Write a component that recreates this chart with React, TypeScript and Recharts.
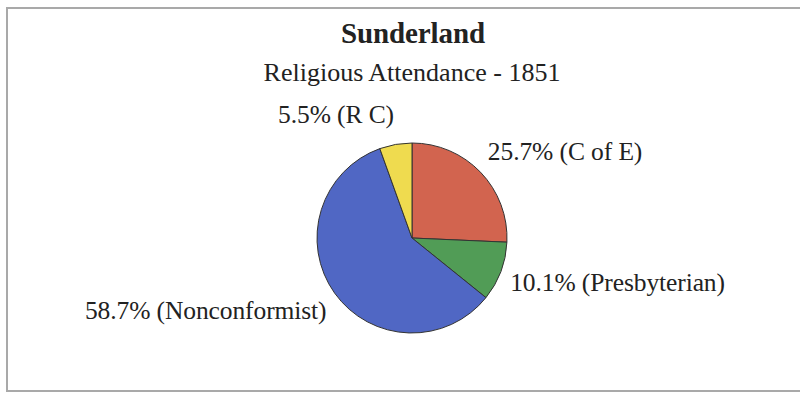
import { PieChart, Pie, Cell } from "recharts";

// Share of attendance by denomination, clockwise from 12 o'clock
const denominations = ["C of E", "Presbyterian", "Nonconformist", "R C"];
const shares = [25.7, 10.1, 58.7, 5.5];
const colors = ["#d2644f", "#519c56", "#5067c4", "#efdb4f"];

const data = denominations.map((name, i) => ({ name, value: shares[i] }));

const RAD = Math.PI / 180;
const FONT = '"Liberation Serif", "Times New Roman", serif';

// Labels sit outside the rim, pushed a bit further vertically than horizontally
function renderLabel(props: any) {
  const { cx, cy, outerRadius, midAngle, name, value } = props;
  const ux = Math.cos(-midAngle * RAD);
  const uy = Math.sin(-midAngle * RAD);
  const x = cx + (outerRadius + 10) * ux;
  const y = cy + (outerRadius + 30) * uy;
  return (
    <text
      x={x}
      y={y}
      textAnchor={x > cx ? "start" : "end"}
      dominantBaseline="central"
      fill="#222"
      style={{ fontFamily: FONT, fontSize: 25.5, letterSpacing: -0.1 }}
    >
      {`${value}% (${name})`}
    </text>
  );
}

export default function App() {
  return (
    <div
      style={{
        position: "fixed",
        left: 0,
        top: 0,
        width: 800,
        height: 393,
        overflow: "hidden",
        background: "#fff",
        fontFamily: FONT,
      }}
    >
      <div
        style={{
          position: "absolute",
          left: 6,
          top: 7,
          width: 800,
          height: 381,
          border: "2px solid #a9a9a9",
        }}
      />
      <div
        style={{
          position: "absolute",
          left: 0,
          top: 19,
          width: 826,
          textAlign: "center",
          fontSize: 29,
          lineHeight: 1,
          fontWeight: 700,
          color: "#222",
          letterSpacing: -0.1,
        }}
      >
        Sunderland
      </div>
      <div
        style={{
          position: "absolute",
          left: 0,
          top: 60,
          width: 824,
          textAlign: "center",
          fontSize: 26,
          lineHeight: 1,
          color: "#222",
        }}
      >
        Religious Attendance - 1851
      </div>
      <div style={{ position: "absolute", left: 0, top: 0 }}>
        <PieChart width={800} height={393} margin={{ top: 0, right: 0, bottom: 0, left: 0 }}>
          <Pie
            data={data}
            dataKey="value"
            nameKey="name"
            cx={412}
            cy={238}
            outerRadius={95}
            startAngle={90}
            endAngle={-270}
            stroke="#333"
            strokeWidth={1}
            label={renderLabel}
            labelLine={false}
            isAnimationActive={false}
          >
            {data.map((d, i) => (
              <Cell key={d.name} fill={colors[i]} />
            ))}
          </Pie>
        </PieChart>
      </div>
    </div>
  );
}
